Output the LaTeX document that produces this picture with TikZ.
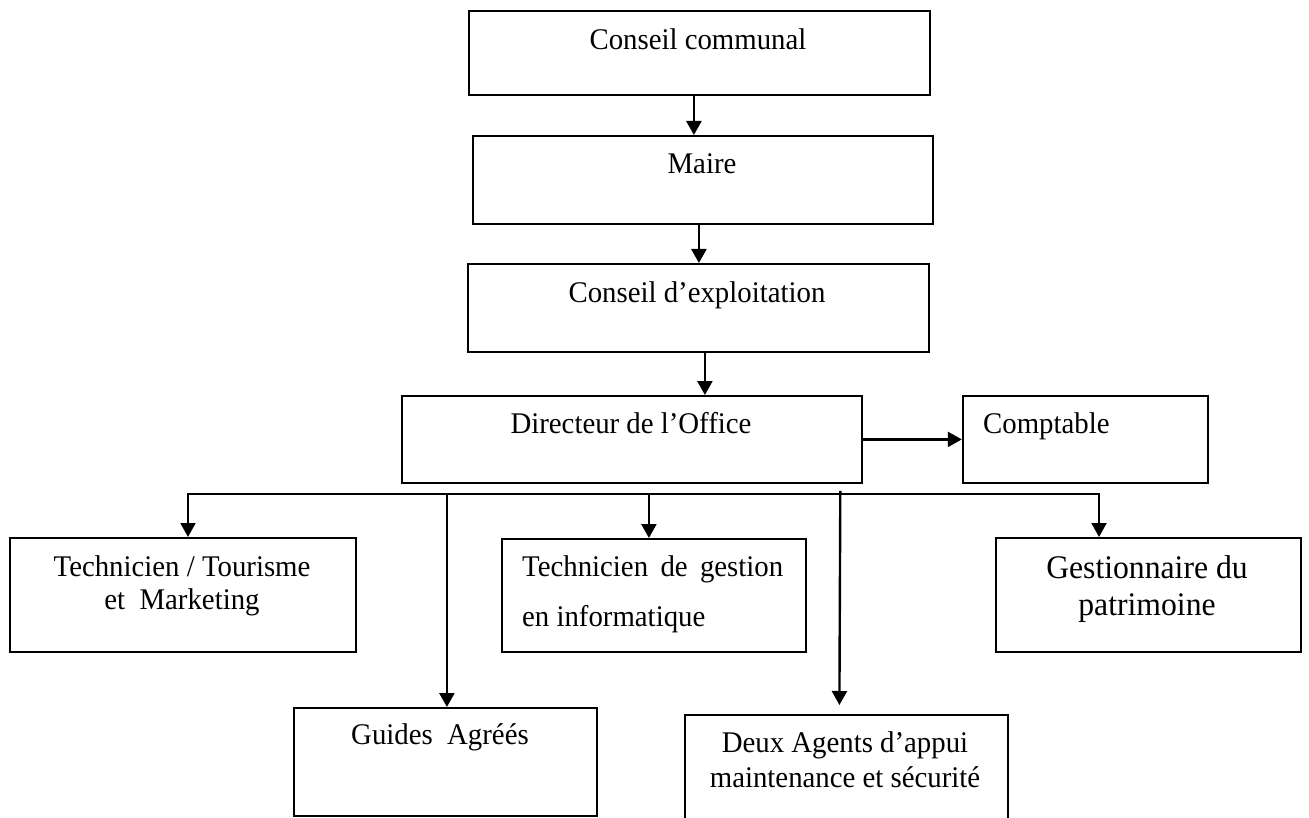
\documentclass[tikz,border=0pt]{standalone}
\usepackage{fontspec}
\setmainfont[FakeStretch=0.96]{Liberation Serif}
\usepackage{tikz}
\usetikzlibrary{arrows.meta,positioning}

\begin{document}
\begin{tikzpicture}[
  x=1pt,y=-1pt,
  box/.style={rectangle,draw=black,line width=1.8pt,inner sep=0pt,anchor=north west},
  txt/.style={inner sep=0pt,align=center,font=\fontsize{30}{33}\selectfont},
  arrow/.style={-{Triangle[width=15pt,length=14pt]},line width=2.4pt}
]
\useasboundingbox (0,0) rectangle (1309,818);
% boxes
\node[box,minimum width=461pt,minimum height=84pt] (cc) at (468,10) {};
\node[box,minimum width=460pt,minimum height=88pt] (maire) at (472,135) {};
\node[box,minimum width=461pt,minimum height=88pt] (cex) at (467,263) {};
\node[box,minimum width=460pt,minimum height=87pt] (dir) at (401,395) {};
\node[box,minimum width=245pt,minimum height=87pt,right=99pt of dir] (compt) {};
\node[box,minimum width=346pt,minimum height=114pt] (techtour) at (9,537) {};
\node[box,minimum width=304pt,minimum height=113pt] (techinfo) at (501,538) {};
\node[box,minimum width=305pt,minimum height=114pt] (gest) at (995,537) {};
\node[box,minimum width=303pt,minimum height=108pt] (guides) at (293,707) {};
\node[box,minimum width=323pt,minimum height=126pt] (agents) at (684,714) {};
% texts
\node[txt,anchor=base] (cc-t) at (698,50) {Conseil communal};
\node[txt,anchor=base] (maire-t) at (702,174) {Maire};
\node[txt,anchor=base] (cex-t) at (697,302) {Conseil d’exploitation};
\node[txt,anchor=base] (dir-t) at (631,433) {Directeur de l’Office};
\node[txt,anchor=base west] (compt-t) at (983,433) {Comptable};
\node[txt,anchor=north] (techtour-t) at (182,555) {Technicien / Tourisme\\et\ \ Marketing};
\node[txt,anchor=north west,align=justify,text width=261pt,font=\fontsize{30}{50}\selectfont] (techinfo-t) at (522,555) {Technicien de gestion\linebreak en informatique};
\node[txt,anchor=north,font=\fontsize{33}{37}\selectfont] (gest-t) at (1147,555) {Gestionnaire du\\patrimoine};
\node[txt,anchor=base] (guides-t) at (440,744) {Guides\ \ Agréés};
\node[txt,anchor=north,font=\fontsize{30}{35}\selectfont] (agents-t) at (845,731) {Deux Agents d’appui\\maintenance et sécurité};
% connectors
\coordinate (busL) at (188,494);
\coordinate (busR) at (1099,494);
\draw[arrow] ([xshift=-5.5pt]cc.south) -- ([xshift=-9pt]maire.north);
\draw[arrow] ([xshift=-4pt]maire.south) -- ([xshift=0.5pt]cex.north);
\draw[arrow] ([xshift=6.5pt]cex.south) -- ([xshift=73pt]dir.north);
\draw[arrow] (dir.east) -- (compt.west);
\draw[{Triangle[width=15pt,length=14pt]}-{Triangle[width=15pt,length=14pt]},line width=2pt] (techtour.north -| busL) |- (busR) -- (gest.north -| busR);
\draw[arrow] ([xshift=-5pt]techinfo.north |- busL) -- ([xshift=-5pt]techinfo.north);
\draw[arrow] ([xshift=1.5pt]guides.north |- busL) -- ([xshift=1.5pt]guides.north);
\draw[arrow] ([xshift=-22.5pt,yshift=-7pt]dir.south east) -- ([xshift=-7pt,yshift=9pt]agents.north);
\end{tikzpicture}
\end{document}
